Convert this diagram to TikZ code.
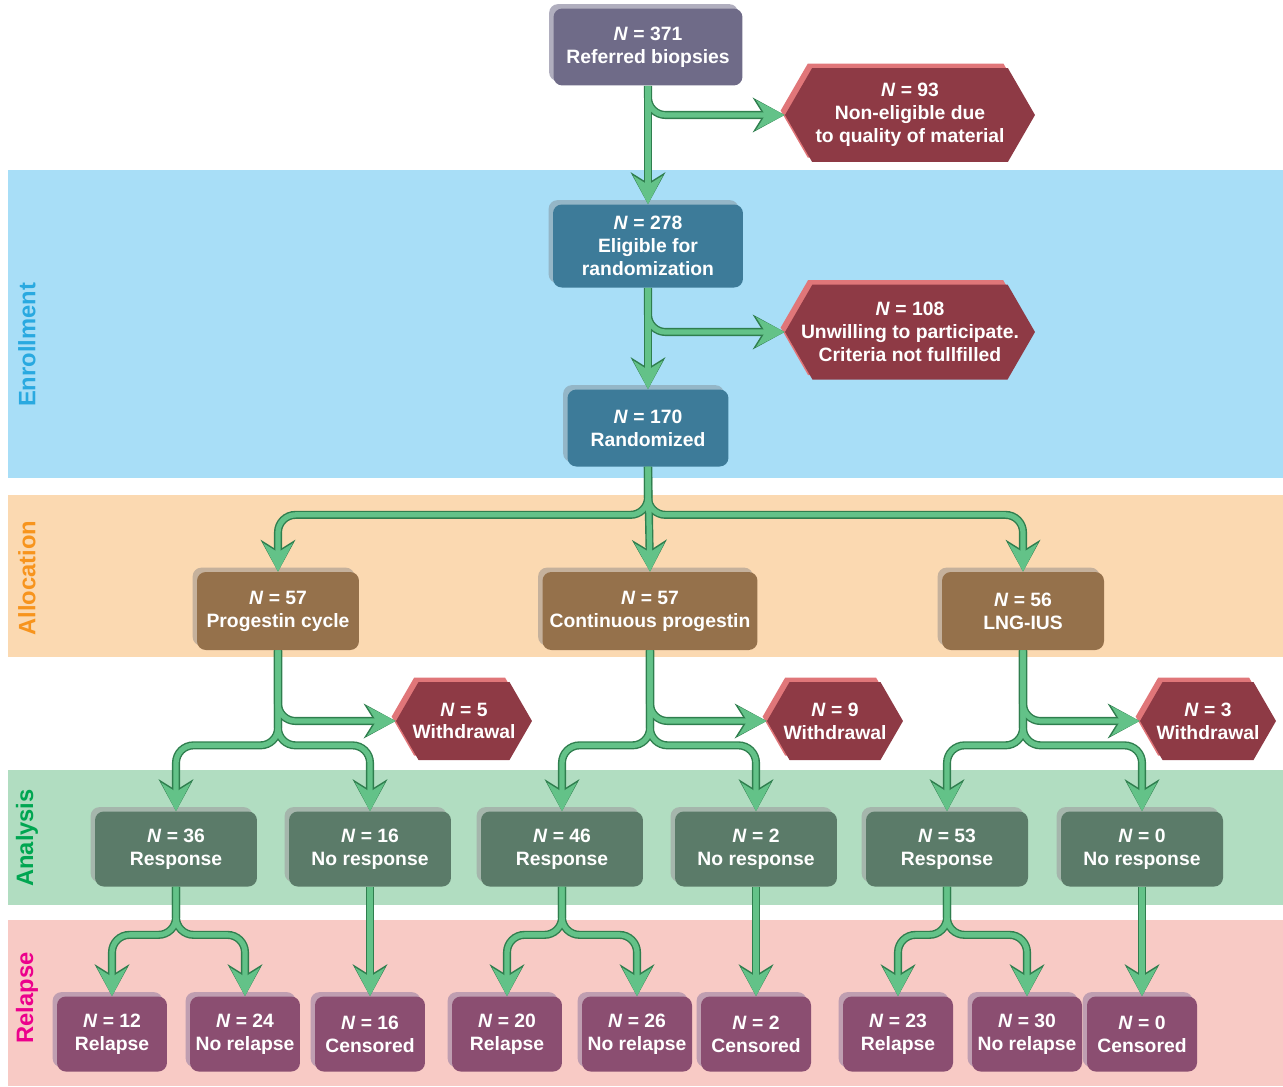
\documentclass[tikz,border=0pt]{standalone}
\usepackage{fontspec}
\setsansfont{Liberation Sans}
\usetikzlibrary{arrows.meta, shapes.symbols, shadows}

\definecolor{enrollbg}{HTML}{A8DEF7}
\definecolor{allocbg}{HTML}{FBD9B1}
\definecolor{analysisbg}{HTML}{B1DDC1}
\definecolor{relapsebg}{HTML}{F8CAC5}
\definecolor{enrolltxt}{HTML}{29A9E0}
\definecolor{alloctxt}{HTML}{F7941D}
\definecolor{analysistxt}{HTML}{00A651}
\definecolor{relapsetxt}{HTML}{EC008C}
\definecolor{intakecol}{HTML}{6F6B88}
\definecolor{screencol}{HTML}{3D7B99}
\definecolor{armcol}{HTML}{95714B}
\definecolor{resultcol}{HTML}{5B7B69}
\definecolor{outcomecol}{HTML}{8B4E71}
\definecolor{excludedcol}{HTML}{8E3A45}
\definecolor{flowgreen}{HTML}{63C288}
\definecolor{flowdark}{HTML}{2F7E4E}

\newcommand{\nval}[1]{\textit{N} = #1}

\begin{document}
\begin{tikzpicture}[x = 0.02cm, y = -0.02cm,
    every node/.style = {font = \sffamily\bfseries\fontsize{11}{13}\selectfont, text = white, align = center, inner sep = 2pt},
    stage/.style = {rounded corners = 5pt, fill = #1, general shadow = {fill = #1!55!white, shadow xshift = -2.5pt, shadow yshift = 2.5pt}},
    excluded/.style = {signal, signal to = west and east, signal pointer angle = 120, fill = excludedcol, inner xsep = -4pt,
        general shadow = {fill = excludedcol!45!red!60!white, shadow xshift = -2.5pt, shadow yshift = 2.5pt}},
    band/.style = {rotate = 90, font = \sffamily\bfseries\fontsize{13.5}{15}\selectfont},
    flowedge/.style = {draw = flowdark, line width = 4.6pt, rounded corners = 10pt,
        -{Stealth[length = 18pt, width = 19.5pt, inset = 6pt]}},
    flowbody/.style = {draw = flowgreen, line width = 3pt, rounded corners = 10pt,
        -{Stealth[length = 16pt, width = 16.5pt, inset = 5pt]}}]
    \useasboundingbox (0, 0) rectangle (1283, 1086);

    % bands
    \fill[enrollbg] (8, 170) rectangle (1283, 478);
    \fill[allocbg] (8, 495) rectangle (1283, 657);
    \fill[analysisbg] (8, 770) rectangle (1283, 905);
    \fill[relapsebg] (8, 920) rectangle (1283, 1086);
    \node[band, text = enrolltxt] (enrolllbl) at (27, 345) {Enrollment};
    \node[band, text = alloctxt] (alloclbl) at (27, 578) {Allocation};
    \node[band, text = analysistxt] (analysislbl) at (27, 838) {Analysis};
    \node[band, text = relapsetxt] (relapselbl) at (27, 998) {Relapse};

    % enrollment
    \node[stage = intakecol, minimum width = 3.78cm, minimum height = 1.54cm] (referred) at (648, 47) {\nval{371}\\Referred biopsies};
    \node[excluded, minimum width = 5cm, minimum height = 1.88cm] (nonelig) at (910, 115) {\nval{93}\\Non-eligible due\\to quality of material};
    \node[stage = screencol, minimum width = 3.8cm, minimum height = 1.66cm] (eligible) at (648, 246) {\nval{278}\\Eligible for\\randomization};
    \node[excluded, minimum width = 5cm, minimum height = 1.9cm, inner xsep = -8pt] (unwilling) at (910, 332) {\nval{108}\\Unwilling to participate.\\Criteria not fullfilled};
    \node[stage = screencol, minimum width = 3.22cm, minimum height = 1.54cm] (randomized) at (648, 428) {\nval{170}\\Randomized};

    % allocation
    \node[stage = armcol, minimum width = 3.24cm, minimum height = 1.56cm] (cycle) at (278, 611) {\nval{57}\\Progestin cycle};
    \node[stage = armcol, minimum width = 4.3cm, minimum height = 1.56cm] (continuous) at (650, 611) {\nval{57}\\Continuous progestin};
    \node[stage = armcol, minimum width = 3.24cm, minimum height = 1.56cm] (lngius) at (1023, 611) {\nval{56}\\LNG-IUS};

    % withdrawals
    \node[excluded, minimum width = 2.72cm, minimum height = 1.56cm] (wcycle) at (464, 721) {\nval{5}\\Withdrawal};
    \node[excluded, minimum width = 2.72cm, minimum height = 1.56cm] (wcont) at (835, 721) {\nval{9}\\Withdrawal};
    \node[excluded, minimum width = 2.72cm, minimum height = 1.56cm] (wlng) at (1208, 721) {\nval{3}\\Withdrawal};

    % analysis
    \node[stage = resultcol, minimum width = 3.24cm, minimum height = 1.5cm] (resp1) at (176, 849) {\nval{36}\\Response};
    \node[stage = resultcol, minimum width = 3.24cm, minimum height = 1.5cm] (noresp1) at (370, 849) {\nval{16}\\No response};
    \node[stage = resultcol, minimum width = 3.24cm, minimum height = 1.5cm] (resp2) at (562, 849) {\nval{46}\\Response};
    \node[stage = resultcol, minimum width = 3.24cm, minimum height = 1.5cm] (noresp2) at (756, 849) {\nval{2}\\No response};
    \node[stage = resultcol, minimum width = 3.24cm, minimum height = 1.5cm] (resp3) at (947, 849) {\nval{53}\\Response};
    \node[stage = resultcol, minimum width = 3.24cm, minimum height = 1.5cm] (noresp3) at (1142, 849) {\nval{0}\\No response};

    % relapse
    \node[stage = outcomecol, minimum width = 2.2cm, minimum height = 1.5cm] (rel1) at (112, 1034) {\nval{12}\\Relapse};
    \node[stage = outcomecol, minimum width = 2.2cm, minimum height = 1.5cm] (norel1) at (245, 1034) {\nval{24}\\No relapse};
    \node[stage = outcomecol, minimum width = 2.2cm, minimum height = 1.5cm] (cens1) at (370, 1034) {\nval{16}\\Censored};
    \node[stage = outcomecol, minimum width = 2.2cm, minimum height = 1.5cm] (rel2) at (507, 1034) {\nval{20}\\Relapse};
    \node[stage = outcomecol, minimum width = 2.2cm, minimum height = 1.5cm] (norel2) at (637, 1034) {\nval{26}\\No relapse};
    \node[stage = outcomecol, minimum width = 2.2cm, minimum height = 1.5cm] (cens2) at (756, 1034) {\nval{2}\\Censored};
    \node[stage = outcomecol, minimum width = 2.2cm, minimum height = 1.5cm] (rel3) at (898, 1034) {\nval{23}\\Relapse};
    \node[stage = outcomecol, minimum width = 2.2cm, minimum height = 1.5cm] (norel3) at (1027, 1034) {\nval{30}\\No relapse};
    \node[stage = outcomecol, minimum width = 2.2cm, minimum height = 1.5cm] (cens3) at (1142, 1034) {\nval{0}\\Censored};

    % connectors: dark edge first, green body on top
    \foreach \look in {flowedge, flowbody} {
        \draw[\look] (referred.south) |- (nonelig.west);
        \draw[\look] (referred.south) -- (eligible.north);
        \draw[\look] (eligible.south) |- (unwilling.west);
        \draw[\look] (eligible.south) -- (randomized.north);
        \draw[\look] (randomized.south) -- ++(0, 48) -| (cycle.north);
        \draw[\look] (randomized.south) -- ++(0, 48) -| (lngius.north);
        \draw[\look] (randomized.south) -- (continuous.north);

        \draw[\look] (cycle.south) |- (wcycle.west);
        \draw[\look] (cycle.south) -- ++(0, 95) -| (resp1.north);
        \draw[\look] (cycle.south) -- ++(0, 95) -| (noresp1.north);
        \draw[\look] (continuous.south) |- (wcont.west);
        \draw[\look] (continuous.south) -- ++(0, 95) -| (resp2.north);
        \draw[\look] (continuous.south) -- ++(0, 95) -| (noresp2.north);
        \draw[\look] (lngius.south) |- (wlng.west);
        \draw[\look] (lngius.south) -- ++(0, 95) -| (resp3.north);
        \draw[\look] (lngius.south) -- ++(0, 95) -| (noresp3.north);

        \draw[\look] (resp1.south) -- ++(0, 48) -| (rel1.north);
        \draw[\look] (resp1.south) -- ++(0, 48) -| (norel1.north);
        \draw[\look] (noresp1.south) -- (cens1.north);
        \draw[\look] (resp2.south) -- ++(0, 48) -| (rel2.north);
        \draw[\look] (resp2.south) -- ++(0, 48) -| (norel2.north);
        \draw[\look] (noresp2.south) -- (cens2.north);
        \draw[\look] (resp3.south) -- ++(0, 48) -| (rel3.north);
        \draw[\look] (resp3.south) -- ++(0, 48) -| (norel3.north);
        \draw[\look] (noresp3.south) -- (cens3.north);
    }
\end{tikzpicture}
\end{document}
